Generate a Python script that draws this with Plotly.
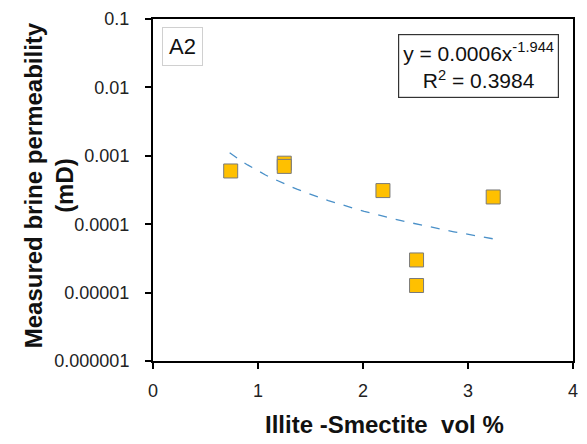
import numpy as np
import plotly.graph_objects as go

# Data
illite_smectite = [0.74, 1.25, 1.25, 2.19, 2.51, 2.51, 3.24]
permeability = [0.00060, 0.00078, 0.00070, 0.00031, 0.000030, 0.0000127, 0.00025]

# Power trendline as printed on the chart: y = a * x^b
trend_a = 0.0006
trend_b = -1.944
trend_x_range = [0.73, 3.25]

y_tick_vals = [1e-6, 1e-5, 1e-4, 1e-3, 1e-2, 1e-1]
y_tick_text = ["0.000001", "0.00001", "0.0001", "0.001", "0.01", "0.1"]
x_tick_vals = [0, 1, 2, 3, 4]

tx = np.linspace(trend_x_range[0], trend_x_range[1], 60)
ty = trend_a * tx ** trend_b

FONT = "Liberation Sans"

fig = go.Figure()
fig.add_trace(go.Scatter(
    x=tx, y=ty, mode="lines",
    line=dict(color="#4a90c8", width=1.3, dash="dash"),
    hoverinfo="skip", showlegend=False))
fig.add_trace(go.Scatter(
    x=illite_smectite, y=permeability, mode="markers",
    marker=dict(symbol="square", size=14, color="#FFC000",
                line=dict(color="#7a7a7a", width=1)),
    showlegend=False))

L, R, T, B = 153, 9, 17, 83
PW, PH = 587 - L - R, 444 - T - B

fig.update_layout(
    width=587, height=444,
    margin=dict(l=L, r=R, t=T, b=B),
    paper_bgcolor="white", plot_bgcolor="white",
    font=dict(family=FONT, color="#222222", size=18),
    xaxis=dict(range=[0, 4], tickvals=x_tick_vals, showgrid=False, zeroline=False,
               showline=True, linecolor="black", linewidth=2, mirror=True,
               ticks="outside", ticklen=6, tickwidth=2, tickcolor="black",
               ticklabelstandoff=6,
               tickfont=dict(size=18, family=FONT, color="#222222")),
    yaxis=dict(type="log", range=[-6, -1], tickvals=y_tick_vals, ticktext=y_tick_text,
               showgrid=False, zeroline=False,
               showline=True, linecolor="black", linewidth=2, mirror=True,
               ticks="outside", ticklen=6, tickwidth=2, tickcolor="black",
               ticklabelstandoff=12,
               tickfont=dict(size=18, family=FONT, color="#222222")),
    annotations=[
        dict(text="A2", xref="paper", yref="paper", x=(162 - L) / PW, y=1 - (25 - T) / PH,
             xanchor="left", yanchor="top", showarrow=False,
             font=dict(size=22, family=FONT, color="#111111"),
             bordercolor="#d0d0d0", borderwidth=1, borderpad=6, bgcolor="white"),
        dict(text="y = 0.0006x<sup>-1.944</sup><br>R<sup>2</sup> = 0.3984",
             xref="paper", yref="paper", x=(564 - L) / PW, y=1 - (32 - T) / PH,
             xanchor="right", yanchor="top", showarrow=False, align="center",
             font=dict(size=21, family=FONT, color="#111111"),
             bordercolor="#333333", borderwidth=1.2, borderpad=4, bgcolor="white"),
        dict(text="<b>Illite -Smectite  vol %</b>", xref="paper", yref="paper",
             x=(387 - L) / PW, y=-(425 - 361) / PH, xanchor="center", yanchor="middle",
             showarrow=False, font=dict(size=24, family=FONT, color="#111111")),
        dict(text="<b>Measured brine permeability<br>(mD)</b>", xref="paper", yref="paper",
             x=-(L - 48) / PW, y=(361 - 184) / PH, xanchor="center", yanchor="middle",
             textangle=-90, showarrow=False, align="center",
             font=dict(size=24, family=FONT, color="#111111")),
    ],
)

fig.write_html("out.html", config={"displayModeBar": False},
               post_script="document.body.style.margin='0';")
